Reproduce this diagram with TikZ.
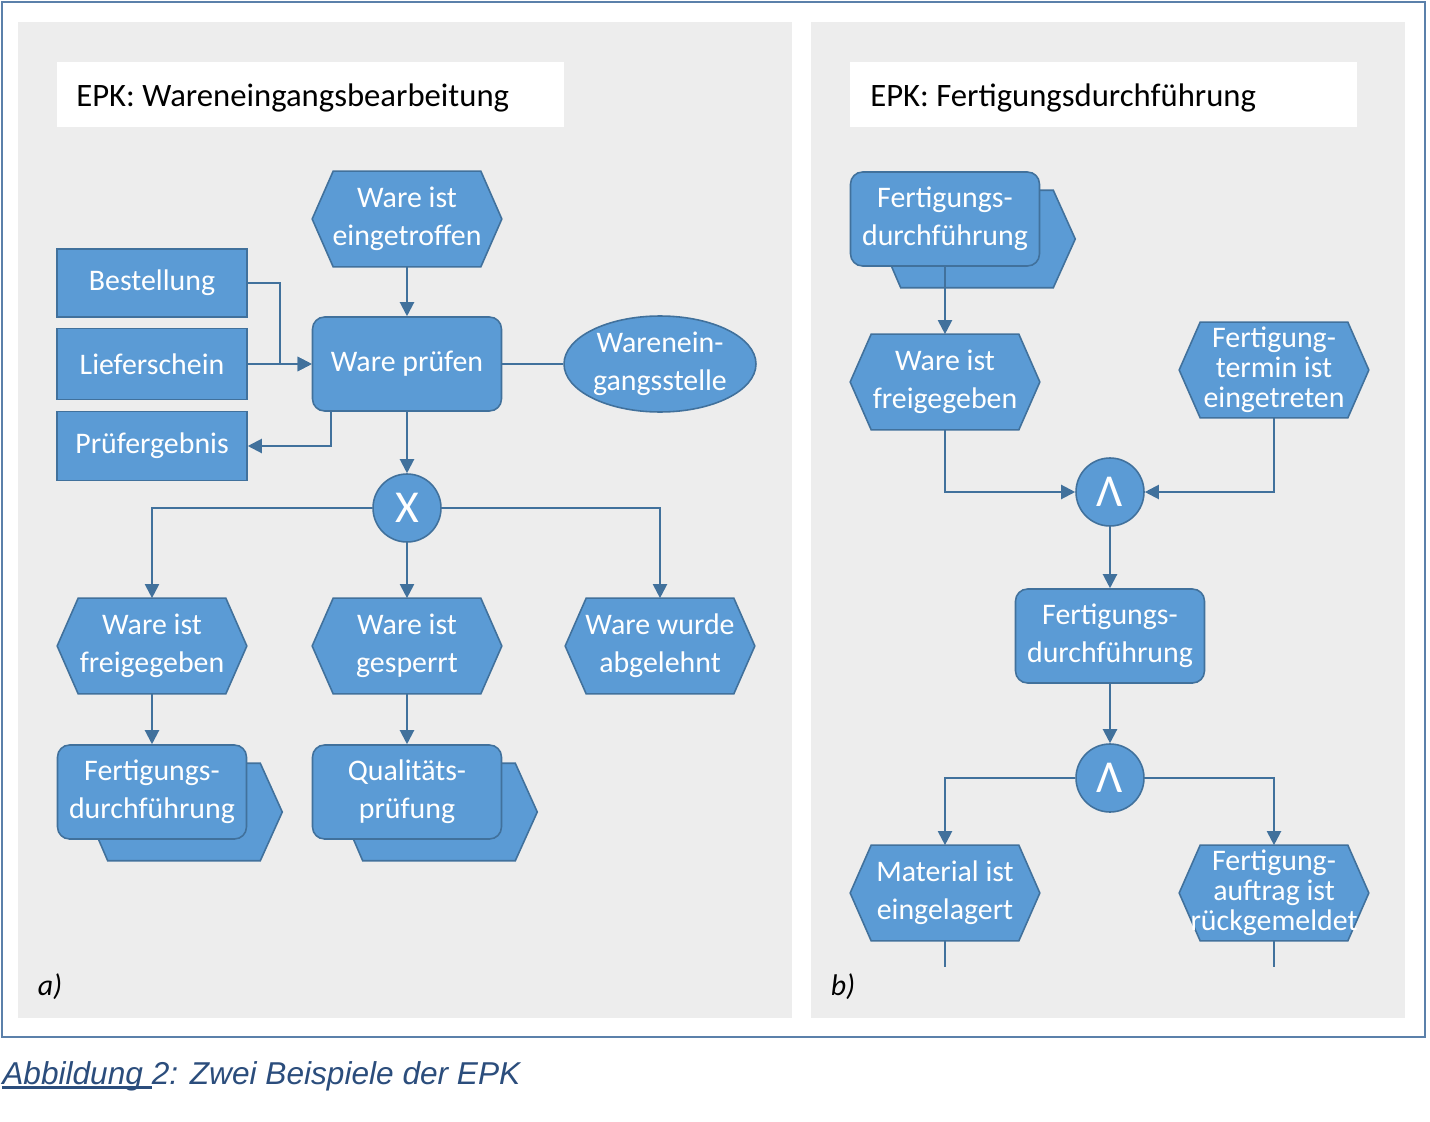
\documentclass[tikz,border=0pt]{standalone}
\usepackage{fontspec}
\setmainfont{Carlito}
\newfontfamily\capfont{Liberation Sans}
\usetikzlibrary{arrows.meta,shapes.geometric}
\definecolor{fc}{HTML}{5B9BD5}
\definecolor{bd}{HTML}{41719C}
\definecolor{panel}{HTML}{EDEDED}
\definecolor{framec}{HTML}{5B80AA}
\definecolor{capc}{HTML}{2B4D7C}
\pgfdeclarelayer{bg}\pgfdeclarelayer{mid}\pgfsetlayers{bg,mid,main}
\newcommand\nodefont{\fontsize{17}{21.5}\selectfont}
\newcommand\nodefontiii{\fontsize{17}{17}\selectfont}
\newsavebox\myulbox
\newcommand\myul[1]{\sbox\myulbox{#1}\rlap{\rule[-2.5pt]{\wd\myulbox}{1.3pt}}\usebox\myulbox}
\newcommand\drawhex[1]{\path[hexsh] ([xshift=0.42cm]#1.north west) -- ([xshift=-0.42cm]#1.north east) -- (#1.east) -- ([xshift=-0.42cm]#1.south east) -- ([xshift=0.42cm]#1.south west) -- (#1.west) -- cycle;}
\newcommand\drawback[1]{\path[hexsh] ([shift={(51,19)}]#1.north west) -- ([shift={(13,19)}]#1.north east) -- ([shift={(35,20)}]#1.east) -- ([shift={(13,21)}]#1.south east) -- ([shift={(51,21)}]#1.south west) -- ([shift={(30,20)}]#1.west) -- cycle;}
\tikzset{
  evt/.style={rectangle, minimum width=3.78cm, minimum height=1.9cm, inner sep=0pt, align=center, text=white, font=\nodefont},
  evtiii/.style={evt, font=\nodefontiii},
  fn/.style={rectangle, rounded corners=0.24cm, draw=bd, fill=fc, line width=0.9pt, minimum width=3.78cm, minimum height=1.88cm, inner sep=0pt, align=center, text=white, font=\nodefont},
  obj/.style={rectangle, draw=bd, fill=fc, line width=0.9pt, minimum width=3.8cm, inner sep=0pt, align=center, text=white, font=\nodefont},
  orgu/.style={ellipse, draw=bd, fill=fc, line width=0.9pt, minimum width=3.84cm, minimum height=1.92cm, inner sep=0pt, align=center, text=white, font=\nodefont},
  gate/.style={circle, draw=bd, fill=fc, line width=0.9pt, minimum size=1.36cm, inner sep=0pt, text=white, font=\fontsize{26}{26}\selectfont},
  hexsh/.style={draw=bd, fill=fc, line width=0.9pt},
  conn/.style={draw=bd, line width=1.2pt, -{Triangle[width=8pt,length=8pt]}},
  plain/.style={draw=bd, line width=1.2pt},
  ttl/.style={anchor=west, inner sep=0pt, font=\fontsize{18.6}{22}\selectfont},
  lbl/.style={inner sep=0pt, font=\itshape\fontsize{17}{20}\selectfont}
}
\begin{document}
\begin{tikzpicture}[x=0.02cm, y=-0.02cm]
\useasboundingbox (0,0) rectangle (1430,1122);
\begin{pgfonlayer}{bg}
  \fill[white] (0,0) rectangle (1430,1122);
  \draw[framec, line width=1.2pt] (2,2) rectangle (1425,1037);
  \fill[panel] (18,22) rectangle (792,1018);
  \fill[panel] (811,22) rectangle (1405,1018);
  \fill[white] (57,62) rectangle (564,127);
  \fill[white] (850,62) rectangle (1357,127);
\end{pgfonlayer}

% titles and labels
\node[ttl] (t1) at (76,98) {EPK: Wareneingangsbearbeitung};
\node[ttl] (t2) at (870,98) {EPK: Fertigungsdurchführung};
\node[lbl] (la) at (50,987) {a)};
\node[lbl] (lb) at (843,987) {b)};
\node[anchor=west, inner sep=0pt, text=capc, font=\capfont\itshape\fontsize{18}{22}\selectfont] (cap) at (2,1076) {\myul{Abbildung }2: Zwei Beispiele der EPK};

% left EPK
\node[evt] (e1) at (407,219) {Ware ist\\eingetroffen};
\node[fn] (f1) at (407,364) {Ware prüfen};
\node[obj, minimum height=1.36cm] (bst) at (152,283) {Bestellung};
\node[obj, minimum height=1.42cm] (lfs) at (152,364) {Lieferschein};
\node[obj, minimum height=1.38cm] (prf) at (152,446) {Prüfergebnis};
\node[orgu] (wes) at (660,364) {Warenein-\\gangsstelle};
\node[gate] (x1) at (407,508) {X};
\node[evt] (e2) at (152,646) {Ware ist\\freigegeben};
\node[evt] (e3) at (407,646) {Ware ist\\gesperrt};
\node[evt] (e4) at (660,646) {Ware wurde\\abgelehnt};
\node[fn] (p1) at (152,792) {Fertigungs-\\durchführung};
\node[fn] (p2) at (407,792) {Qualitäts-\\prüfung};

% right EPK
\node[fn] (p3) at (945,219) {Fertigungs-\\durchführung};
\node[evt] (e5) at (945,382) {Ware ist\\freigegeben};
\node[evtiii] (e6) at (1274,370) {Fertigung-\\termin ist\\eingetreten};
\node[gate] (a1) at (1110,492) {Λ};
\node[fn] (f2) at (1110,636) {Fertigungs-\\durchführung};
\node[gate] (a2) at (1110,778) {Λ};
\node[evt] (e7) at (945,893) {Material ist\\eingelagert};
\node[evtiii] (e8) at (1274,893) {Fertigung-\\auftrag ist\\rückgemeldet};
\coordinate (z1) at (945,967);
\coordinate (z2) at (1274,967);

\begin{pgfonlayer}{mid}
  \drawhex{e1}\drawhex{e2}\drawhex{e3}\drawhex{e4}
  \drawhex{e5}\drawhex{e6}\drawhex{e7}\drawhex{e8}
  \drawback{p1}\drawback{p2}\drawback{p3}
\end{pgfonlayer}

% connectors left
\draw[conn] (e1.south) -- (f1.north);
\draw[conn] (bst.east) -- ++(32,0) |- (f1.west);
\draw[conn] (lfs.east) -- (f1.west);
\draw[conn] ([xshift=0.38cm]f1.south west) |- (prf.east);
\draw[plain] (f1.east) -- (wes.west);
\draw[conn] (f1.south) -- (x1.north);
\draw[conn] (x1.west) -| (e2.north);
\draw[conn] (x1.south) -- (e3.north);
\draw[conn] (x1.east) -| (e4.north);
\draw[conn] (e2.south) -- (p1.north);
\draw[conn] (e3.south) -- (p2.north);

% connectors right
\draw[conn] (p3.south) -- (e5.north);
\draw[conn] (e5.south) |- (a1.west);
\draw[conn] (e6.south) |- (a1.east);
\draw[conn] (a1.south) -- (f2.north);
\draw[conn] (f2.south) -- (a2.north);
\draw[conn] (a2.west) -| (e7.north);
\draw[conn] (a2.east) -| (e8.north);
\draw[plain] (e7.south) -- (z1);
\draw[plain] (e8.south) -- (z2);
\end{tikzpicture}
\end{document}
